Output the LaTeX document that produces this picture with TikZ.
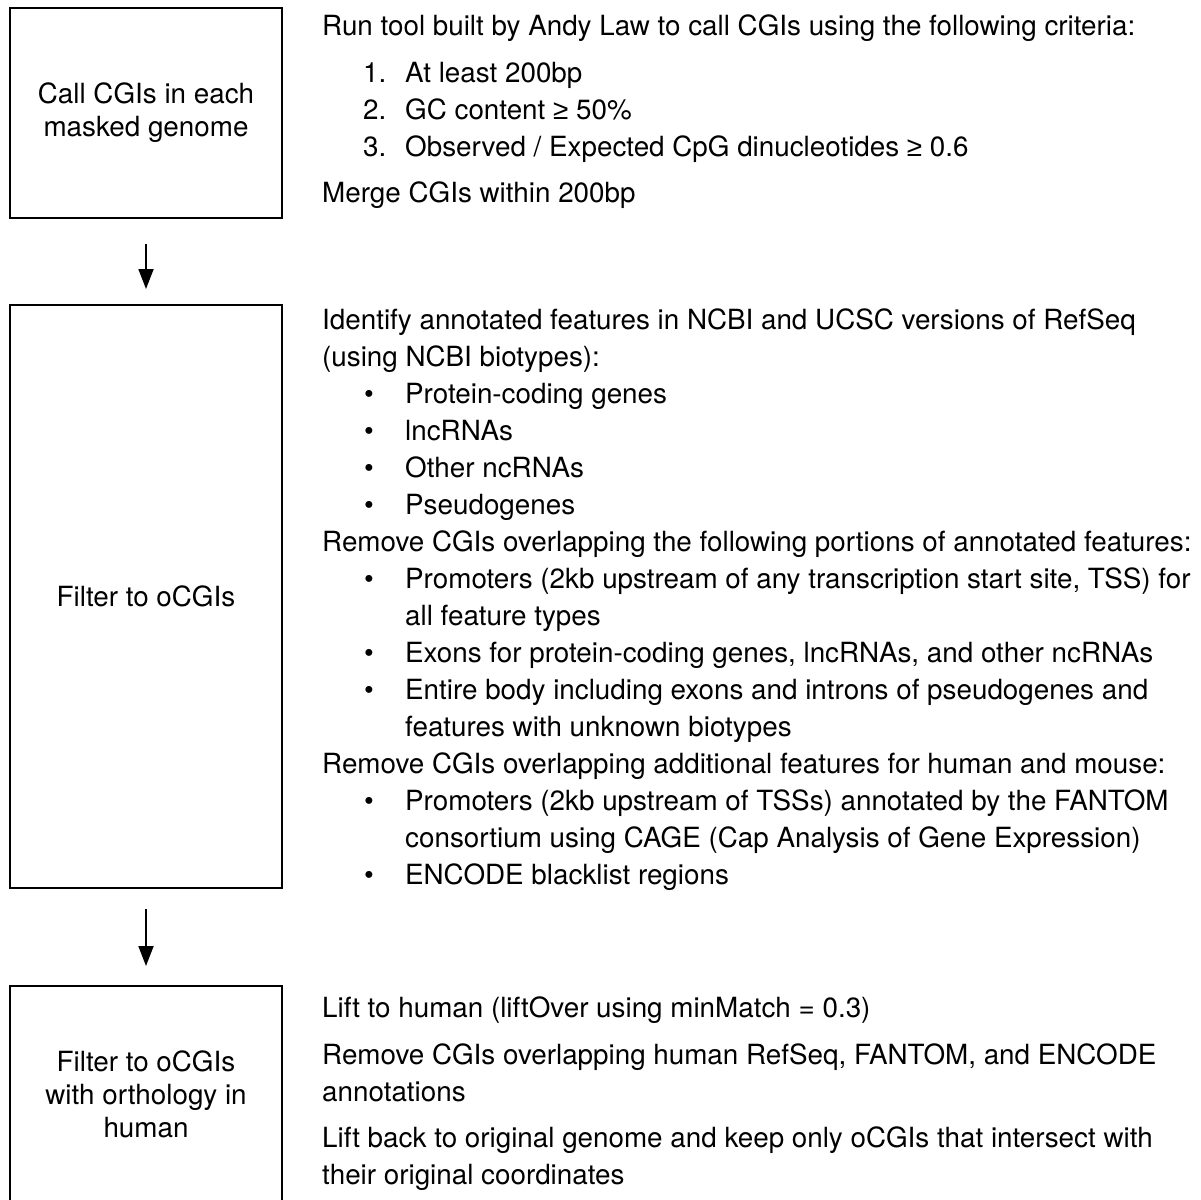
\documentclass[tikz,border=0pt]{standalone}
\usepackage{fontspec}
\setmainfont{TeX Gyre Heros}
\newfontfamily\symf{Liberation Sans}
\usetikzlibrary{arrows.meta}
\begin{document}
\begin{tikzpicture}[x=1pt,y=-1pt,
  every node/.style={font=\fontsize{27.8}{33}\selectfont},
  box/.style={draw,line width=2pt,rectangle,minimum width=272pt,align=center,inner sep=0pt},
  ln/.style={anchor=base west,inner sep=0pt},
  bul/.style={anchor=base,inner sep=0pt},
  arr/.style={line width=1.8pt,-{Triangle[length=20pt,width=15pt]}}]
\useasboundingbox (0,0) rectangle (1201,1199);
% boxes
\node[box,minimum height=210pt] (b1) at (146,113) {Call CGIs in each\\masked genome};
\node[box,minimum height=583pt] (b2) at (146,596.5) {Filter to oCGIs};
\node[box,minimum height=216pt] (b3) at (146,1094) {Filter to oCGIs\\with orthology in\\human};
\draw[arr,shorten <=25pt,shorten >=15pt] (b1.south) -- (b2.north);
\draw[arr,shorten <=20pt,shorten >=19pt] (b2.south) -- (b3.north);
% text block 1
\node[ln] (t1) at (322,36) {Run tool built by Andy Law to call CGIs using the following criteria:};
\node[ln] (n1) at (363,82) {1.};
\node[ln] (i1) at (405,82) {At least 200bp};
\node[ln] (n2) at (363,119) {2.};
\node[ln] (i2) at (405,119) {GC content {\symf ≥} 50\%};
\node[ln] (n3) at (363,156) {3.};
\node[ln] (i3) at (405,156) {Observed / Expected CpG dinucleotides {\symf ≥} 0.6};
\node[ln] (t2) at (322,202) {Merge CGIs within 200bp};
% text block 2
\node[ln] (u1) at (322,329.5) {Identify annotated features in NCBI and UCSC versions of RefSeq};
\node[ln] (u2) at (322,366.5) {(using NCBI biotypes):};
\node[bul] (ba) at (369,403.5) {\textbullet};
\node[ln] (u3) at (405,403.5) {Protein-coding genes};
\node[bul] (bb) at (369,440.5) {\textbullet};
\node[ln] (u4) at (405,440.5) {lncRNAs};
\node[bul] (bc) at (369,477.5) {\textbullet};
\node[ln] (u5) at (405,477.5) {Other ncRNAs};
\node[bul] (bd) at (369,514.5) {\textbullet};
\node[ln] (u6) at (405,514.5) {Pseudogenes};
\node[ln] (u7) at (322,551.5) {Remove CGIs overlapping the following portions of annotated features:};
\node[bul] (be) at (369,588.5) {\textbullet};
\node[ln] (u8) at (405,588.5) {Promoters (2kb upstream of any transcription start site, TSS) for};
\node[ln] (u9) at (405,625.5) {all feature types};
\node[bul] (bf) at (369,662.5) {\textbullet};
\node[ln] (u10) at (405,662.5) {Exons for protein-coding genes, lncRNAs, and other ncRNAs};
\node[bul] (bg) at (369,699.5) {\textbullet};
\node[ln] (u11) at (405,699.5) {Entire body including exons and introns of pseudogenes and};
\node[ln] (u12) at (405,736.5) {features with unknown biotypes};
\node[ln] (u13) at (322,773.5) {Remove CGIs overlapping additional features for human and mouse:};
\node[bul] (bh) at (369,810.5) {\textbullet};
\node[ln] (u14) at (405,810.5) {Promoters (2kb upstream of TSSs) annotated by the FANTOM};
\node[ln] (u15) at (405,847.5) {consortium using CAGE (Cap Analysis of Gene Expression)};
\node[bul] (bi) at (369,884.5) {\textbullet};
\node[ln] (u16) at (405,884.5) {ENCODE blacklist regions};
% text block 3
\node[ln] (v1) at (322,1017) {Lift to human (liftOver using minMatch = 0.3)};
\node[ln] (v2) at (322,1064) {Remove CGIs overlapping human RefSeq, FANTOM, and ENCODE};
\node[ln] (v3) at (322,1101) {annotations};
\node[ln] (v4) at (322,1147) {Lift back to original genome and keep only oCGIs that intersect with};
\node[ln] (v5) at (322,1184) {their original coordinates};
\end{tikzpicture}
\end{document}
